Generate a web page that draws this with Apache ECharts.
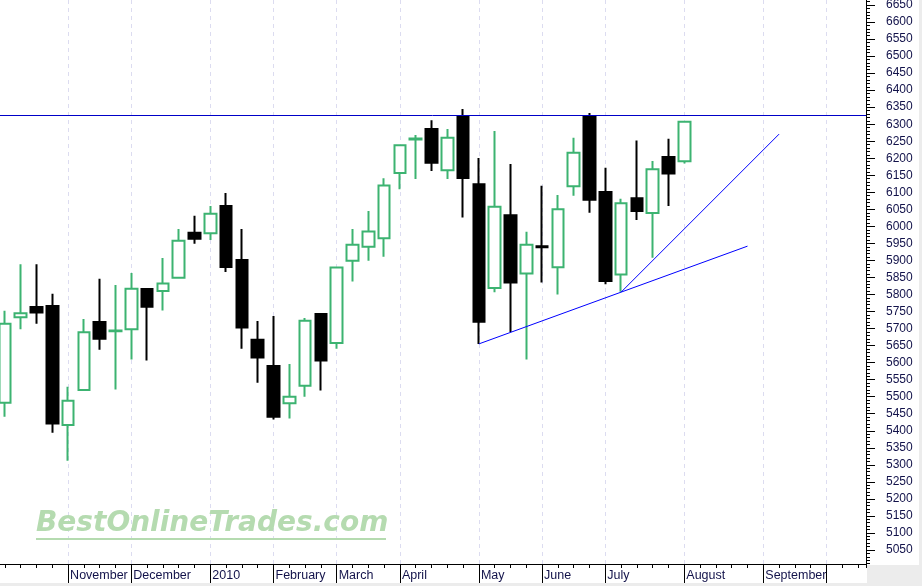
<!DOCTYPE html>
<html><head><meta charset="utf-8">
<script src="https://cdn.jsdelivr.net/npm/echarts@6/dist/echarts.min.js"></script>
<style>html,body{margin:0;padding:0;background:#fff;}#c{width:922px;height:586px;}</style>
</head><body><div id="c"></div>
<script>
// Weekly bars (week ending)
const weeks = [
 '2009-10-09','2009-10-16','2009-10-23','2009-10-30','2009-11-06','2009-11-13','2009-11-20','2009-11-27',
 '2009-12-04','2009-12-11','2009-12-18','2009-12-24','2009-12-31','2010-01-08','2010-01-15','2010-01-22',
 '2010-01-29','2010-02-05','2010-02-12','2010-02-19','2010-02-26','2010-03-05','2010-03-12','2010-03-19',
 '2010-03-26','2010-04-02','2010-04-09','2010-04-16','2010-04-23','2010-04-30','2010-05-07','2010-05-14',
 '2010-05-21','2010-05-28','2010-06-04','2010-06-11','2010-06-18','2010-06-25','2010-07-02','2010-07-09',
 '2010-07-16','2010-07-23','2010-07-30','2010-08-06','2010-08-13','2010-08-20','2010-08-27','2010-09-03',
 '2010-09-10','2010-09-17','2010-09-24','2010-10-01','2010-10-08','2010-10-15','2010-10-22'
];
const opens  = [5482,5733,5763,5766,5417,5520,5719,5692,5698,5816,5810,5849,5981,5980,6060,5901,5667,5590,5481,5532,5743,5658,5899,5940,5965,6157,6255,6286,6165,6323,6124,5819,6033,5862,5942,5880,6118,6323,6101,5859,6083,6039,6204,6191];
const closes = [5714,5745,5747,5421,5488,5689,5670,5694,5817,5764,5832,5958,5964,6037,5881,5703,5615,5441,5500,5723,5606,5879,5946,5985,6120,6238,6258,6187,6260,6142,5720,6058,5835,5946,5939,6050,6216,6078,5840,6068,6045,6168,6155,6307];
const lows   = [5441,5698,5714,5394,5312,5518,5638,5521,5609,5606,5753,5848,5949,5960,5866,5641,5541,5433,5436,5500,5518,5641,5838,5899,5911,6109,6139,6163,6139,6026,5655,5807,5690,5609,5835,5800,6090,6040,5830,5808,6019,5908,6060,6185];
const highs  = [5752,5889,5889,5802,5529,5728,5846,5828,5863,5817,5907,5992,6031,6060,6098,5992,5722,5737,5596,5731,5745,5881,5992,6045,6141,6240,6268,6312,6286,6345,6201,6280,6183,5984,6119,6092,6260,6333,6172,6081,6252,6192,6257,6310];

const monthIndex  = [4,8,13,17,21,25,30,34,38,43,48,52];
const monthLabels = ['November','December','2010','February','March','April','May','June','July','August','September',''];

const resistanceLevel = 6326;
const trendLow   = [[30,5655],[47,5942]];
const trendSteep = [[39,5807],[49,6271]];

const yTickMin = 5000, yTickMax = 6700, yTickStep = 50;
const visMin = 5008.8, visMax = 6664.7;

// layout
const W = 922, H = 586, plotBottomY = 564, gridLeft = -3, gridRight = 56;
const k = plotBottomY / (visMax - visMin);
const rulerTop = (visMax - yTickMax) * k;
const rulerBottom = H - (visMax - yTickMin) * k;

const candleData = opens.map((o, i) => [o, closes[i], lows[i], highs[i]]);
const font = "'Liberation Sans', Arial, sans-serif";
const txtColor = '#12124a';

const chart = echarts.init(document.getElementById('c'), null, {renderer: 'canvas'});
chart.setOption({
  animation: false,
  backgroundColor: '#ffffff',
  grid: [
    {left: gridLeft, right: gridRight, top: 0, bottom: H - plotBottomY, containLabel: false, outerBoundsMode: 'none'},
    {left: gridLeft, right: gridRight, top: rulerTop, bottom: rulerBottom, containLabel: false, outerBoundsMode: 'none'}
  ],
  xAxis: [
    {
      type: 'category', gridIndex: 0, data: weeks, position: 'bottom', boundaryGap: true,
      axisLine: {show: true, lineStyle: {color: '#000', width: 1}},
      axisTick: {show: true, alignWithLabel: true, interval: 0, length: 4, lineStyle: {color: '#000'}},
      axisLabel: {
        show: true,
        interval: (idx) => monthIndex.indexOf(idx) >= 0,
        formatter: (v, idx) => { const m = monthIndex.indexOf(idx); return m >= 0 ? monthLabels[m] : ''; },
        align: 'left', margin: 5, padding: [0, 0, 0, 2],
        fontSize: 12.5, fontFamily: font, color: txtColor
      },
      splitLine: {show: false}
    },
    {
      type: 'category', gridIndex: 0, data: weeks, position: 'bottom', boundaryGap: true,
      axisLine: {show: false},
      axisTick: {show: true, alignWithLabel: true, interval: (idx) => monthIndex.indexOf(idx) >= 0, length: 19, lineStyle: {color: '#000'}},
      axisLabel: {show: false},
      splitLine: {show: false}
    },
    {
      type: 'category', gridIndex: 1, data: weeks, show: false
    }
  ],
  yAxis: [
    {type: 'value', gridIndex: 0, min: visMin, max: visMax, show: false, splitLine: {show: false}},
    {
      type: 'value', gridIndex: 1, position: 'right', min: yTickMin, max: yTickMax, interval: yTickStep,
      axisLine: {show: true, lineStyle: {color: '#000', width: 1}},
      axisTick: {show: true, inside: false, length: 9, lineStyle: {color: '#000'}},
      minorTick: {show: true, splitNumber: 5, length: 4, lineStyle: {color: '#000'}},
      splitLine: {show: false},
      minorSplitLine: {show: false},
      axisLabel: {
        show: true, margin: 20, fontSize: 12, fontFamily: font, color: txtColor,
        showMinLabel: false, showMaxLabel: false,
        formatter: (v) => (v <= yTickMin || v >= yTickMax) ? '' : String(v)
      }
    }
  ],
  series: [
    {
      type: 'line', xAxisIndex: 0, yAxisIndex: 0, data: [], z: 1, silent: true,
      markLine: {
        silent: true, symbol: ['none', 'none'], z: 1, animation: false,
        label: {show: false},
        lineStyle: {color: '#dcdcf0', type: [4, 4], width: 1},
        data: monthIndex.map(i => ({xAxis: weeks[i]}))
      }
    },
    {
      type: 'candlestick', xAxisIndex: 0, yAxisIndex: 0, data: candleData, barWidth: 12, silent: true, z: 2,
      itemStyle: {color: '#ffffff', color0: '#000000', borderColor: '#3cb371', borderColor0: '#000000', borderColorDoji: '#3cb371', borderWidth: 2},
      emphasis: {disabled: true},
      markLine: {
        silent: true, symbol: ['none', 'none'], animation: false,
        label: {show: false},
        lineStyle: {color: '#0000c8', type: 'solid', width: 1},
        data: [{yAxis: resistanceLevel}]
      }
    },
    {
      type: 'line', xAxisIndex: 0, yAxisIndex: 0, data: trendLow, symbol: 'none', silent: true, z: 3,
      lineStyle: {color: '#0000ff', width: 1}
    },
    {
      type: 'line', xAxisIndex: 0, yAxisIndex: 0, data: trendSteep, symbol: 'none', silent: true, z: 3,
      lineStyle: {color: '#0000ff', width: 1}
    }
  ],
  graphic: [
    {type: 'rect', z: 100, silent: true, shape: {x: 867, y: 565, width: 55, height: 21}, style: {fill: '#ececec'}},
    {type: 'rect', z: 100, silent: true, shape: {x: 0, y: 583, width: 922, height: 3}, style: {fill: '#ececec'}},
    {type: 'rect', z: 100, silent: true, shape: {x: 919, y: 0, width: 3, height: 586}, style: {fill: '#ececec'}},
    {type: 'text', z: 100, silent: true, left: 36, top: 510,
      style: {text: 'BestOnlineTrades.com', font: "italic bold 28px 'DejaVu Sans', sans-serif", fill: '#b5dbb0'}},
    {type: 'rect', z: 100, silent: true, shape: {x: 36, y: 538, width: 350, height: 2}, style: {fill: '#b5dbb0'}}
  ]
});
</script>
</body></html>
